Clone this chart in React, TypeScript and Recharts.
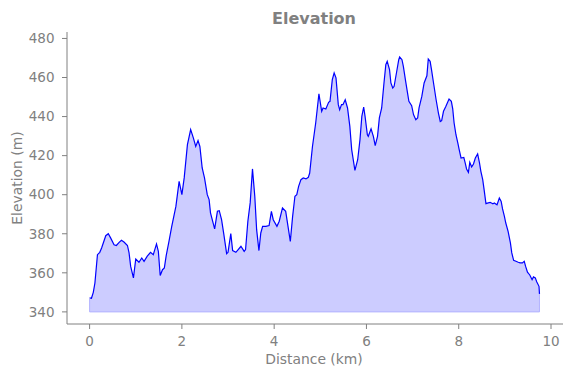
import React from "react";
import {
  ComposedChart,
  Area,
  XAxis,
  YAxis,
  ReferenceLine,
} from "recharts";

const distanceKm: number[] = [
  0, 0.04, 0.08, 0.115, 0.17, 0.22, 0.26, 0.35, 0.405, 0.455, 0.53, 0.58, 0.64, 0.69, 0.745, 0.82, 0.855, 0.89, 0.95, 1.0,
  1.07, 1.13, 1.18, 1.25, 1.32, 1.38, 1.45, 1.49, 1.53, 1.58, 1.62, 1.66, 1.72, 1.78, 1.87, 1.94, 2.0, 2.05, 2.12, 2.19,
  2.25, 2.3, 2.35, 2.39, 2.44, 2.49, 2.55, 2.59, 2.62, 2.71, 2.77, 2.81, 2.86, 2.91, 2.97, 3.0, 3.06, 3.1, 3.17, 3.22,
  3.28, 3.35, 3.38, 3.43, 3.48, 3.53, 3.58, 3.62, 3.67, 3.71, 3.75, 3.82, 3.89, 3.94, 3.98, 4.06, 4.11, 4.18, 4.25, 4.3,
  4.35, 4.4, 4.45, 4.49, 4.53, 4.58, 4.63, 4.69, 4.74, 4.77, 4.83, 4.9, 4.97, 5.03, 5.06, 5.12, 5.18, 5.21, 5.26, 5.3,
  5.34, 5.39, 5.42, 5.46, 5.49, 5.54, 5.59, 5.64, 5.68, 5.75, 5.81, 5.86, 5.9, 5.94, 5.97, 6.02, 6.04, 6.1, 6.15, 6.19,
  6.24, 6.28, 6.33, 6.38, 6.42, 6.45, 6.5, 6.53, 6.57, 6.6, 6.65, 6.7, 6.72, 6.77, 6.8, 6.85, 6.89, 6.92, 6.98, 7.02,
  7.07, 7.11, 7.14, 7.2, 7.25, 7.31, 7.34, 7.38, 7.41, 7.46, 7.51, 7.56, 7.6, 7.63, 7.67, 7.72, 7.79, 7.84, 7.87, 7.9,
  7.94, 7.98, 8.01, 8.05, 8.11, 8.14, 8.17, 8.21, 8.24, 8.28, 8.32, 8.36, 8.41, 8.45, 8.48, 8.52, 8.55, 8.59, 8.64, 8.68,
  8.74, 8.77, 8.83, 8.88, 8.92, 8.95, 8.99, 9.02, 9.07, 9.12, 9.15, 9.19, 9.24, 9.29, 9.33, 9.38, 9.42, 9.45, 9.49, 9.54,
  9.59, 9.62, 9.66, 9.69, 9.74, 9.75,
];

const elevationM: number[] = [
  347.2, 347.0, 350, 354.8, 369.3, 370.5, 372.7, 379, 380, 377.9, 374.4, 374, 375.6, 376.7, 375.8, 374, 370.2, 363.3, 357.4, 367.1,
  365.4, 367.6, 365.9, 368.5, 370.5, 369.3, 374.8, 371, 358.6, 361.6, 362.5, 368.8, 376.1, 383.8, 394, 406.8, 400, 408.6, 425.6, 433.3,
  429, 424.7, 427.7, 424.7, 413.7, 408.6, 400, 397.5, 390.7, 382.5, 391.5, 391.8, 387.2, 379.6, 369.8, 370.5, 380.1, 371.4, 370.5, 371.9,
  373.6, 371, 371.9, 386.4, 395.8, 413.2, 399.2, 382.1, 371.4, 380.4, 383.8, 383.8, 384.2, 391.5, 387.2, 383.8, 386.4, 393.2, 391.5, 383.8,
  376.1, 388.9, 399.2, 400, 404.3, 407.7, 408.6, 408.1, 408.9, 411.1, 424.7, 436.7, 451.6, 442.7, 444.4, 443.9, 447.3, 447.8, 458.9, 462.3,
  459.8, 446.1, 443.5, 446.1, 446.1, 448.6, 444.4, 435, 423.1, 412.5, 417.9, 428.2, 440.1, 444.9, 440.1, 430.7, 429.9, 433.7, 429.9, 425.1,
  429.9, 439.3, 444.4, 457.2, 466.6, 468.3, 464, 457.2, 454.6, 455.5, 462.3, 469.1, 470.5, 469.1, 465.7, 458, 452.1, 447.8, 445.6, 441,
  438.4, 439.3, 444.4, 450.3, 457.2, 460.9, 469.5, 468.3, 464, 456.3, 448.6, 441.8, 437.5, 437.9, 442.7, 445.2, 449, 447.8, 443.9, 436.7,
  430.7, 426.5, 423.1, 418.8, 419.1, 416.3, 413.2, 411.4, 416.6, 414.2, 415.7, 418.8, 420.9, 416.3, 412, 407.7, 402.6, 395.4, 395.8, 396.1,
  395.3, 395.8, 394.8, 398.3, 396.6, 392.7, 388.9, 385.5, 381.2, 375.3, 370.2, 366.4, 365.9, 365.4, 365.1, 365.1, 365.9, 363.3, 360.3, 358.9,
  356.5, 357.9, 357.4, 355.4, 353.1, 349.2,
];

const xTicks: number[] = [0, 2, 4, 6, 8, 10];
const yTicks: number[] = [340, 360, 380, 400, 420, 440, 460, 480];
const baseElevation = 340;

const titleText = "Elevation";
const xLabelText = "Distance (km)";
const yLabelText = "Elevation (m)";

const data = distanceKm.map((d, i) => ({ distance: d, elevation: elevationM[i] }));

const FONT = "DejaVu Sans, sans-serif";
const GRAY = "#808080";

export default function App() {
  const firstD = distanceKm[0];
  const lastD = distanceKm[distanceKm.length - 1];
  const firstE = elevationM[0];
  const lastE = elevationM[elevationM.length - 1];
  return (
    <div style={{ position: "absolute", left: 0, top: 0, width: 571, height: 378, background: "#fff" }}>
      <ComposedChart
        width={571}
        height={378}
        data={data}
        margin={{ top: 32, right: 8, left: 0, bottom: 0 }}
        style={{ fontFamily: FONT }}
      >
        <XAxis
          dataKey="distance"
          type="number"
          domain={[-0.49, 10.26]}
          ticks={xTicks}
          allowDataOverflow
          height={54}
          tickSize={5}
          tickMargin={7}
          stroke={GRAY}
          tick={{ fill: GRAY, fontSize: 13.5, fontFamily: FONT }}
          axisLine={{ stroke: GRAY }}
          tickLine={{ stroke: GRAY }}
        />
        <YAxis
          type="number"
          domain={[333.8, 483.3]}
          ticks={yTicks}
          allowDataOverflow
          width={67}
          tickSize={5}
          tickMargin={7.5}
          stroke={GRAY}
          tick={{ fill: GRAY, fontSize: 13.5, fontFamily: FONT }}
          axisLine={{ stroke: GRAY }}
          tickLine={{ stroke: GRAY }}
        />
        <Area
          type="linear"
          dataKey="elevation"
          baseValue={baseElevation}
          stroke="#0000ff"
          strokeWidth={1.2}
          fill="#0000ff"
          fillOpacity={0.2}
          isAnimationActive={false}
          dot={false}
          activeDot={false}
        />
        <ReferenceLine
          segment={[
            { x: firstD, y: baseElevation },
            { x: lastD, y: baseElevation },
          ]}
          stroke="#b3b3ff"
          strokeWidth={1}
        />
        <ReferenceLine
          segment={[
            { x: lastD, y: baseElevation },
            { x: lastD, y: lastE },
          ]}
          stroke="#b3b3ff"
          strokeWidth={1}
        />
        <ReferenceLine
          segment={[
            { x: firstD, y: baseElevation },
            { x: firstD, y: firstE },
          ]}
          stroke="#b3b3ff"
          strokeWidth={1}
        />
        <text x={314} y={23.5} textAnchor="middle" fill={GRAY} fontSize={16} fontWeight="bold" fontFamily={FONT}>
          {titleText}
        </text>
        <text x={314} y={364} textAnchor="middle" fill={GRAY} fontSize={13.9} fontFamily={FONT}>
          {xLabelText}
        </text>
        <text
          x={22}
          y={178}
          textAnchor="middle"
          fill={GRAY}
          fontSize={13.9}
          fontFamily={FONT}
          transform="rotate(-90, 22, 178)"
        >
          {yLabelText}
        </text>
      </ComposedChart>
    </div>
  );
}
